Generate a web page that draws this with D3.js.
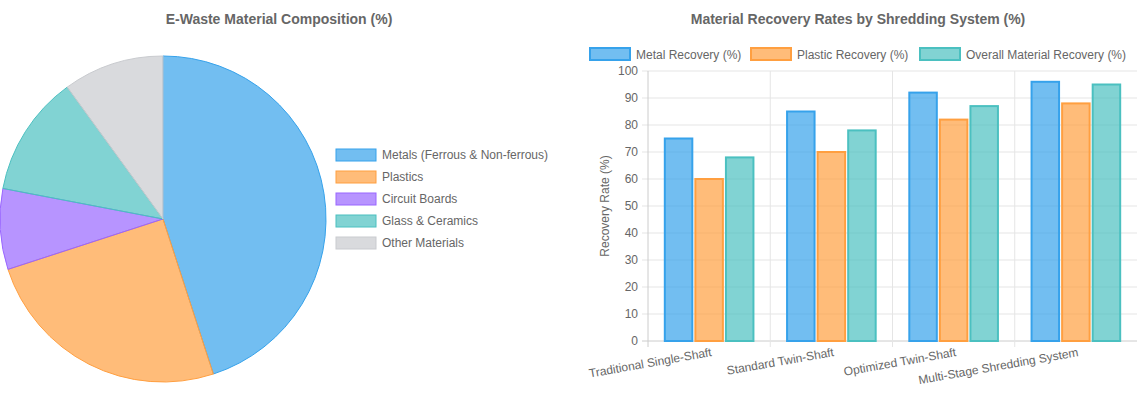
<!DOCTYPE html>
<html><head><meta charset="utf-8">
<script src="https://cdn.jsdelivr.net/npm/d3@7"></script>
<style>body{margin:0;background:#fff;font-family:"Helvetica Neue",Arial,"Liberation Sans",sans-serif}</style>
</head><body>
<svg width="1137" height="400"></svg>
<script>
var pieLabels = ["Metals (Ferrous & Non-ferrous)", "Plastics", "Circuit Boards", "Glass & Ceramics", "Other Materials"];
var pieValues = [45, 25, 8, 12, 10];
var pieFill = ["rgba(54,162,235,0.7)", "rgba(255,159,64,0.7)", "rgba(153,102,255,0.7)", "rgba(75,192,192,0.7)", "rgba(201,203,207,0.7)"];
var pieStroke = ["rgb(54,162,235)", "rgb(255,159,64)", "rgb(153,102,255)", "rgb(75,192,192)", "rgb(201,203,207)"];

var systems = ["Traditional Single-Shaft", "Standard Twin-Shaft", "Optimized Twin-Shaft", "Multi-Stage Shredding System"];
var seriesNames = ["Metal Recovery (%)", "Plastic Recovery (%)", "Overall Material Recovery (%)"];
var metal = [75, 85, 92, 96];
var plastic = [60, 70, 82, 88];
var overall = [68, 78, 87, 95];
var yTicks = [0, 10, 20, 30, 40, 50, 60, 70, 80, 90, 100];

var svg = d3.select("svg");
var txt = "#666";

// ---- pie
svg.append("text").attr("x", 279).attr("y", 24).attr("text-anchor", "middle")
    .attr("font-size", 14).attr("font-weight", "bold").attr("fill", txt)
    .text("E-Waste Material Composition (%)");

var pie = d3.pie().sort(null).value(function (d) { return d; });
var arc = d3.arc().innerRadius(0).outerRadius(163);
var gp = svg.append("g").attr("transform", "translate(163,219)");
gp.selectAll("path").data(pie(pieValues)).enter().append("path")
    .attr("d", arc)
    .attr("fill", function (d, i) { return pieFill[i]; })
    .attr("stroke", function (d, i) { return pieStroke[i]; })
    .attr("stroke-width", 1);

var lg = svg.append("g").attr("transform", "translate(336,149)");
pieLabels.forEach(function (l, i) {
    var r = lg.append("g").attr("transform", "translate(0," + i * 22 + ")");
    r.append("rect").attr("width", 40).attr("height", 12)
        .attr("fill", pieFill[i]).attr("stroke", pieStroke[i]).attr("stroke-width", 1);
    r.append("text").attr("x", 46).attr("y", 10).attr("font-size", 12).attr("fill", txt).text(l);
});

// ---- bars
svg.append("text").attr("x", 858).attr("y", 24).attr("text-anchor", "middle")
    .attr("font-size", 14).attr("font-weight", "bold").attr("fill", txt)
    .text("Material Recovery Rates by Shredding System (%)");

var pLeft = 648, pRight = 1137, pTop = 71, pBottom = 341;
var x0 = d3.scaleBand().domain(systems).range([pLeft, pRight]);
var x1 = d3.scaleBand().domain(seriesNames).range([0, x0.bandwidth()]).paddingInner(0.1).paddingOuter(0.55);
var y = d3.scaleLinear().domain([0, 100]).range([pBottom, pTop]);

var grid = svg.append("g");
yTicks.forEach(function (t) {
    grid.append("line").attr("x1", pLeft - 6).attr("x2", pRight).attr("y1", y(t)).attr("y2", y(t))
        .attr("stroke", t === 0 ? "#ccc" : "#e5e5e5");
    grid.append("text").attr("x", pLeft - 10).attr("y", y(t) + 4).attr("text-anchor", "end")
        .attr("font-size", 12).attr("fill", txt).text(t);
});
systems.forEach(function (s, i) {
    var xx = x0(s);
    grid.append("line").attr("x1", xx).attr("x2", xx).attr("y1", pTop).attr("y2", pBottom + 6)
        .attr("stroke", i === 0 ? "#ccc" : "#e5e5e5");
});
svg.append("text").attr("transform", "translate(609," + ((pTop + pBottom) / 2) + ") rotate(-90)")
    .attr("text-anchor", "middle").attr("font-size", 12).attr("fill", txt).text("Recovery Rate (%)");

var series = [metal, plastic, overall];
series.forEach(function (vals, k) {
    svg.append("g").selectAll("rect").data(vals).enter().append("rect")
        .attr("x", function (d, i) { return x0(systems[i]) + x1(seriesNames[k]); })
        .attr("y", function (d) { return y(d); })
        .attr("width", x1.bandwidth())
        .attr("height", function (d) { return pBottom - y(d); })
        .attr("fill", pieFill[k === 2 ? 3 : k])
        .attr("stroke", pieStroke[k === 2 ? 3 : k]).attr("stroke-width", 2);
});

systems.forEach(function (s) {
    var cx = x0(s) + x0.bandwidth() / 2;
    svg.append("text").attr("transform", "translate(" + (cx + 3) + ",356) rotate(-10)")
        .attr("text-anchor", "end").attr("font-size", 12).attr("fill", txt).text(s);
});

// legend
var legX = [590, 751, 920];
seriesNames.forEach(function (n, k) {
    var g = svg.append("g").attr("transform", "translate(" + legX[k] + ",48)");
    g.append("rect").attr("width", 40).attr("height", 12)
        .attr("fill", pieFill[k === 2 ? 3 : k]).attr("stroke", pieStroke[k === 2 ? 3 : k]).attr("stroke-width", 2);
    g.append("text").attr("x", 46).attr("y", 11).attr("font-size", 12).attr("fill", txt).text(n);
});
</script>
</body></html>
